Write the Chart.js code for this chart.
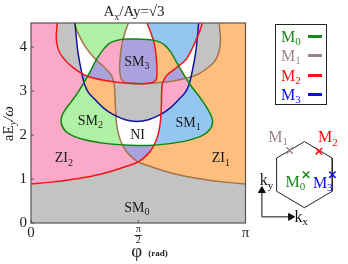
<!DOCTYPE html>
<html>
<head>
<meta charset="utf-8">
<script src="https://cdn.jsdelivr.net/npm/chart.js@4.4.1/dist/chart.umd.min.js"></script>
<style>
  html, body { margin: 0; padding: 0; background: #fff; }
  body { position: relative; width: 348px; height: 264px; overflow: hidden; font-family: 'Liberation Serif', serif; }
  canvas { position: absolute; }
  #main { left: 0; top: 0; }
  #bz { left: 250px; top: 125px; }
  #legend { position: absolute; left: 275px; top: 24px; width: 52px; height: 81px; border: 1.5px solid #222; box-sizing: border-box; }
  #legend div { position: absolute; left: 5px; height: 19px; line-height: 19px; font-size: 16px; white-space: nowrap; }
  #legend sub { font-size: 11px; vertical-align: -3px; line-height: 0; }
  #legend span { position: absolute; left: 27px; top: 8px; width: 14px; height: 3px; }
</style>
</head>
<body>
<canvas id="main" width="252" height="264"></canvas>
<div id="legend"></div>
<canvas id="bz" width="98" height="125"></canvas>
<script>
// axis ticks
const xTickVals = [0, Math.PI / 2, Math.PI];
const xTickText = ['0', ['π', '2'], 'π'];
const yTickVals = [0, 1, 2, 3, 4];

// gap-closing lines, [phi, aEy/w]
const m0Line = [[1.55,4.185],[1.75,4.17],[1.88,4.12],[1.97,4.03],[2.05,3.88],[2.16,3.58],[2.33,3.15],[2.50,2.8],[2.62,2.5],[2.66,2.32],[2.63,2.15],[2.52,2.0],[2.30,1.88],[2.0,1.8],[1.7,1.765],[1.45,1.77],[1.15,1.80],[0.85,1.87],[0.65,1.96],[0.50,2.1],[0.44,2.3],[0.47,2.5],[0.59,2.76],[0.70,3.0],[0.85,3.4],[0.96,3.72],[1.06,3.95],[1.16,4.1],[1.30,4.17],[1.45,4.185],[1.55,4.185]];
const m2Low = [[-0.05,0.885],[0,0.89],[0.3,0.93],[0.6,0.99],[0.9,1.07],[1.2,1.19],[1.4,1.29],[1.571,1.39],[1.70,1.55],[1.79,1.74],[1.86,2.0],[1.895,2.3],[1.91,2.7],[1.915,3.05],[1.93,3.2],[1.99,3.36],[2.12,3.52],[2.27,3.72],[2.37,4.0],[2.45,4.28],[2.50,4.5],[2.52,4.7]];
const m2High = [[0.39,4.7],[0.385,4.55],[0.37,4.2],[0.40,3.95],[0.46,3.78],[0.59,3.57],[0.81,3.35],[1.13,3.23],[1.42,3.18],[1.64,3.17],[1.77,3.19],[1.83,3.25],[1.845,3.4],[1.84,3.65],[1.81,4.05],[1.75,4.35],[1.70,4.55],[1.68,4.7]];
const m3Line = [[0.64,4.7],[0.645,4.55],[0.665,4.2],[0.69,3.86],[0.735,3.48],[0.785,3.15],[0.84,2.97],[0.93,2.82],[1.06,2.62],[1.2,2.47],[1.38,2.35],[1.55,2.31],[1.72,2.35],[1.90,2.47],[2.04,2.62],[2.17,2.82],[2.26,2.97],[2.315,3.15],[2.365,3.48],[2.41,3.86],[2.435,4.2],[2.455,4.55],[2.46,4.7]];
const m1Low = [[3.19,0.885],[3.142,0.89],[2.84,0.93],[2.54,0.99],[2.24,1.07],[1.94,1.19],[1.74,1.29],[1.571,1.39],[1.44,1.55],[1.35,1.74],[1.285,2.0],[1.25,2.3],[1.235,2.7],[1.225,3.05],[1.215,3.2],[1.17,3.38],[1.07,3.55],[0.93,3.75],[0.80,4.0],[0.70,4.28],[0.645,4.5],[0.62,4.7]];
const m1High = [[2.75,4.7],[2.755,4.55],[2.775,4.2],[2.76,3.95],[2.70,3.70],[2.58,3.52],[2.41,3.36],[2.15,3.25],[1.92,3.2],[1.65,3.17],[1.45,3.18],[1.34,3.23],[1.305,3.38],[1.30,3.65],[1.33,4.05],[1.38,4.35],[1.425,4.55],[1.44,4.7]];

// phase labels
const phaseName = ['SM', 'SM', 'SM', 'SM', 'NI', 'ZI', 'ZI'];
const phaseSub = ['0', '1', '2', '3', '', '1', '2'];
const phaseAt = [[1.55,0.34],[2.30,2.27],[0.87,2.31],[1.55,3.65],[1.56,2.0],[2.78,1.46],[0.48,1.46]];

// Brillouin zone inset, k in units of the zone radius
const bzCorner = [[0,1],[0.866,0.5],[0.866,-0.5],[0,-1],[-0.866,-0.5],[-0.866,0.5],[0,1]];
const mPoint = [[0.05,0],[-0.46,0.73],[0.45,0.71],[0.87,0]];
const mLabelAt = [[-0.28,-0.24],[-0.82,1.12],[0.73,1.10],[0.57,-0.27]];
const kyArrow = [[-1.325,-1.276],[-1.325,-0.48]];
const kxArrow = [[-1.325,-1.276],[-0.43,-1.276]];

const mNames = ['0', '1', '2', '3'];
const mColors = ['#1a8a1a', '#9a8686', '#ff1010', '#0a0aff'];
const lineColors = ['#0f870f', '#a3744c', '#f51414', '#1212a0'];
const serif = "'Liberation Serif', serif";
const xy = a => a.map(p => ({x: p[0], y: p[1]}));

// legend
const legend = document.getElementById('legend');
mNames.forEach((n, i) => {
  const row = document.createElement('div');
  row.style.top = [1.5, 21, 40.5, 60][i] + 'px';
  row.style.color = mColors[i];
  row.innerHTML = 'M<sub>' + n + '</sub><span style="background:' + mColors[i] + '"></span>';
  legend.appendChild(row);
});

function textSub(ctx, main, sub, x, y, size, align) {
  ctx.font = size + 'px ' + serif;
  const w1 = ctx.measureText(main).width;
  ctx.font = Math.round(size * 0.7) + 'px ' + serif;
  const w2 = sub ? ctx.measureText(sub).width : 0;
  let x0 = x - (w1 + w2) / 2;
  if (align === 'left') x0 = x;
  ctx.textAlign = 'left';
  ctx.textBaseline = 'middle';
  ctx.font = size + 'px ' + serif;
  ctx.fillText(main, x0, y);
  if (sub) {
    ctx.font = Math.round(size * 0.7) + 'px ' + serif;
    ctx.fillText(sub, x0 + w1, y + size * 0.3);
  }
}

// dataset index groups: M0, M1, M2 ; M3 separately
const groups = [[0], [4, 5], [1, 2]];
const m3Index = 3;
// colour of each phase from parities (b0^b3, b1^b3, b2^b3); base is grey
const phaseFillColor = [
  [[0,0,1], '#fba9c9'],
  [[0,1,0], '#fdbe7e'],
  [[0,1,1], '#aba1dd'],
  [[1,1,1], '#ffffff'],
  [[1,0,1], '#b1f1a5'],
  [[1,1,0], '#93c6f1'],
  [[1,0,0], '#dcdcdc']
];

function traceCurve(ctx, chart, idx) {
  const meta = chart.getDatasetMeta(idx);
  const pts = meta.data;
  const area = chart.chartArea;
  meta.dataset.updateControlPoints(area, 'x');
  ctx.moveTo(pts[0].x, pts[0].y);
  for (let i = 1; i < pts.length; i++) {
    const a = pts[i - 1], b = pts[i];
    ctx.bezierCurveTo(a.cp2x, a.cp2y, b.cp1x, b.cp1y, b.x, b.y);
  }
  if (idx !== 0) {
    // open branch: shut it above the plot
    const far = area.top - 100;
    ctx.lineTo(pts[pts.length - 1].x, far);
    ctx.lineTo(pts[0].x, far);
  }
  ctx.closePath();
}

const phaseFill = {
  id: 'phaseFill',
  beforeDatasetsDraw(chart) {
    const ctx = chart.ctx, a = chart.chartArea;
    ctx.save();
    ctx.beginPath();
    ctx.rect(a.left, a.top, a.width, a.height);
    ctx.clip();
    ctx.fillStyle = '#c3c3c3';
    ctx.fillRect(a.left, a.top, a.width, a.height);
    phaseFillColor.forEach(([bits, col]) => {
      ctx.save();
      bits.forEach((b, i) => {
        ctx.beginPath();
        groups[i].forEach(d => traceCurve(ctx, chart, d));
        traceCurve(ctx, chart, m3Index);
        if (!b) ctx.rect(a.left - 500, a.top - 500, a.width + 1000, a.height + 1000);
        ctx.clip('evenodd');
      });
      ctx.fillStyle = col;
      ctx.fillRect(a.left, a.top, a.width, a.height);
      ctx.restore();
    });
    ctx.restore();
  },
  afterDatasetsDraw(chart) {
    const ctx = chart.ctx, a = chart.chartArea;
    const sx = chart.scales.x, sy = chart.scales.y;
    ctx.save();
    ctx.fillStyle = '#1a1a1a';
    phaseName.forEach((n, i) => {
      textSub(ctx, n, phaseSub[i], sx.getPixelForValue(phaseAt[i][0]), sy.getPixelForValue(phaseAt[i][1]), 14);
    });
    // frame and inward ticks
    ctx.strokeStyle = '#555';
    ctx.lineWidth = 1.2;
    ctx.strokeRect(a.left, a.top, a.width, a.height);
    ctx.lineWidth = 1;
    ctx.beginPath();
    yTickVals.forEach(v => {
      const y = sy.getPixelForValue(v);
      ctx.moveTo(a.left, y); ctx.lineTo(a.left + 3, y);
    });
    xTickVals.forEach(v => {
      const x = sx.getPixelForValue(v);
      ctx.moveTo(x, a.bottom); ctx.lineTo(x, a.bottom - 3);
    });
    ctx.stroke();
    // fraction bar of pi/2
    const xm = sx.getPixelForValue(Math.PI / 2);
    ctx.strokeStyle = '#222';
    ctx.beginPath();
    ctx.moveTo(xm - 3.5, a.bottom + 12.5); ctx.lineTo(xm + 3.5, a.bottom + 12.5);
    ctx.stroke();
    // title
    ctx.fillStyle = '#222';
    ctx.font = '15px ' + serif;
    const t1 = 'A', t3 = '/Ay=√3';
    const w1 = ctx.measureText(t1).width, w3 = ctx.measureText(t3).width;
    ctx.font = '10px ' + serif;
    const w2 = ctx.measureText('x').width;
    let x0 = 134 - (w1 + w2 + w3) / 2;
    ctx.textBaseline = 'middle';
    ctx.textAlign = 'left';
    ctx.font = '15px ' + serif;
    ctx.fillText(t1, x0, 12);
    ctx.font = '10px ' + serif;
    ctx.fillText('x', x0 + w1, 17);
    ctx.font = '15px ' + serif;
    ctx.fillText(t3, x0 + w1 + w2, 12);
    // x title
    ctx.font = '19px ' + serif;
    ctx.fillText('φ', xm - 7, 252);
    ctx.font = 'bold 9px ' + serif;
    ctx.fillText('(rad)', xm + 10, 254);
    // y title
    ctx.translate(9, 124);
    ctx.rotate(-Math.PI / 2);
    ctx.font = '15px ' + serif;
    const ya = 'aE', yb = '/ω';
    const wa = ctx.measureText(ya).width, wb = ctx.measureText(yb).width;
    ctx.font = 'italic 10px ' + serif;
    const wy = ctx.measureText('y').width;
    let y0 = -(wa + wy + wb) / 2;
    ctx.font = '15px ' + serif;
    ctx.fillText(ya, y0, 0);
    ctx.font = 'italic 10px ' + serif;
    ctx.fillText('y', y0 + wa, 4);
    ctx.font = 'italic 15px ' + serif;
    ctx.fillText(yb, y0 + wa + wy, 0);
    ctx.restore();
  }
};

const lineSet = (data, color) => ({
  data: xy(data), showLine: true, borderColor: color, borderWidth: 1.5,
  pointRadius: 0, tension: 0.35, capBezierPoints: false, fill: false, clip: 0
});

new Chart(document.getElementById('main'), {
  type: 'scatter',
  data: {
    datasets: [
      lineSet(m0Line, lineColors[0]),
      lineSet(m2Low, lineColors[2]),
      lineSet(m2High, lineColors[2]),
      lineSet(m3Line, lineColors[3]),
      lineSet(m1Low, lineColors[1]),
      lineSet(m1High, lineColors[1])
    ]
  },
  options: {
    responsive: false,
    animation: false,
    devicePixelRatio: 1,
    layout: { padding: { top: 23, right: 6.5, left: 0, bottom: 0 } },
    plugins: { legend: { display: false }, tooltip: { enabled: false } },
    scales: {
      x: {
        type: 'linear', min: 0, max: Math.PI,
        grid: { display: false, drawTicks: false },
        border: { display: false },
        afterBuildTicks: s => { s.ticks = xTickVals.map(v => ({ value: v })); },
        afterFit: s => { s.height = 41; },
        ticks: {
          padding: 1, color: '#222', autoSkip: false, maxRotation: 0,
          callback: (v, i) => xTickText[i],
          font: c => (c.index === 1 ? { family: serif, size: 10, lineHeight: 1.1 } : { family: serif, size: 15 })
        }
      },
      y: {
        type: 'linear', min: 0, max: 4.55,
        grid: { display: false, drawTicks: false },
        border: { display: false },
        afterBuildTicks: s => { s.ticks = yTickVals.map(v => ({ value: v })); },
        afterFit: s => { s.width = 31; },
        ticks: { padding: 4, color: '#222', font: { family: serif, size: 15 } }
      }
    }
  },
  plugins: [phaseFill]
});

// inset: hexagonal zone with the four M points
const bzText = {
  id: 'bzText',
  afterDatasetsDraw(chart) {
    const ctx = chart.ctx, sx = chart.scales.x, sy = chart.scales.y;
    ctx.save();
    mNames.forEach((n, i) => {
      ctx.fillStyle = mColors[i];
      textSub(ctx, 'M', n, sx.getPixelForValue(mLabelAt[i][0]), sy.getPixelForValue(mLabelAt[i][1]), 16);
    });
    ctx.fillStyle = '#111';
    textSub(ctx, 'k', 'y', sx.getPixelForValue(-1.18), sy.getPixelForValue(-0.2), 16);
    textSub(ctx, 'k', 'x', sx.getPixelForValue(-0.1), sy.getPixelForValue(-1.29), 16);
    ctx.restore();
  }
};

const arrowSet = (data, rot) => ({
  data: xy(data), showLine: true, borderColor: '#111', borderWidth: 1,
  pointRadius: [0, 4], pointStyle: 'triangle', pointRotation: rot,
  pointBackgroundColor: '#111', pointBorderColor: '#111', pointBorderWidth: 1, clip: false
});

new Chart(document.getElementById('bz'), {
  type: 'scatter',
  data: {
    datasets: [
      { data: xy(mPoint), pointStyle: 'crossRot', pointRadius: 4.5, pointBorderWidth: 1.5,
        pointBorderColor: mColors, pointBackgroundColor: mColors, clip: false },
      { data: xy(bzCorner), showLine: true, borderColor: '#222', borderWidth: 1, pointRadius: 0, tension: 0, clip: false },
      arrowSet(kyArrow, 0),
      arrowSet(kxArrow, 90)
    ]
  },
  options: {
    responsive: false,
    animation: false,
    devicePixelRatio: 1,
    layout: { padding: 0 },
    plugins: { legend: { display: false }, tooltip: { enabled: false } },
    scales: {
      x: { display: false, min: -1.508, max: 1.169 },
      y: { display: false, min: -2.096, max: 1.320 }
    }
  },
  plugins: [bzText]
});
</script>
</body>
</html>
